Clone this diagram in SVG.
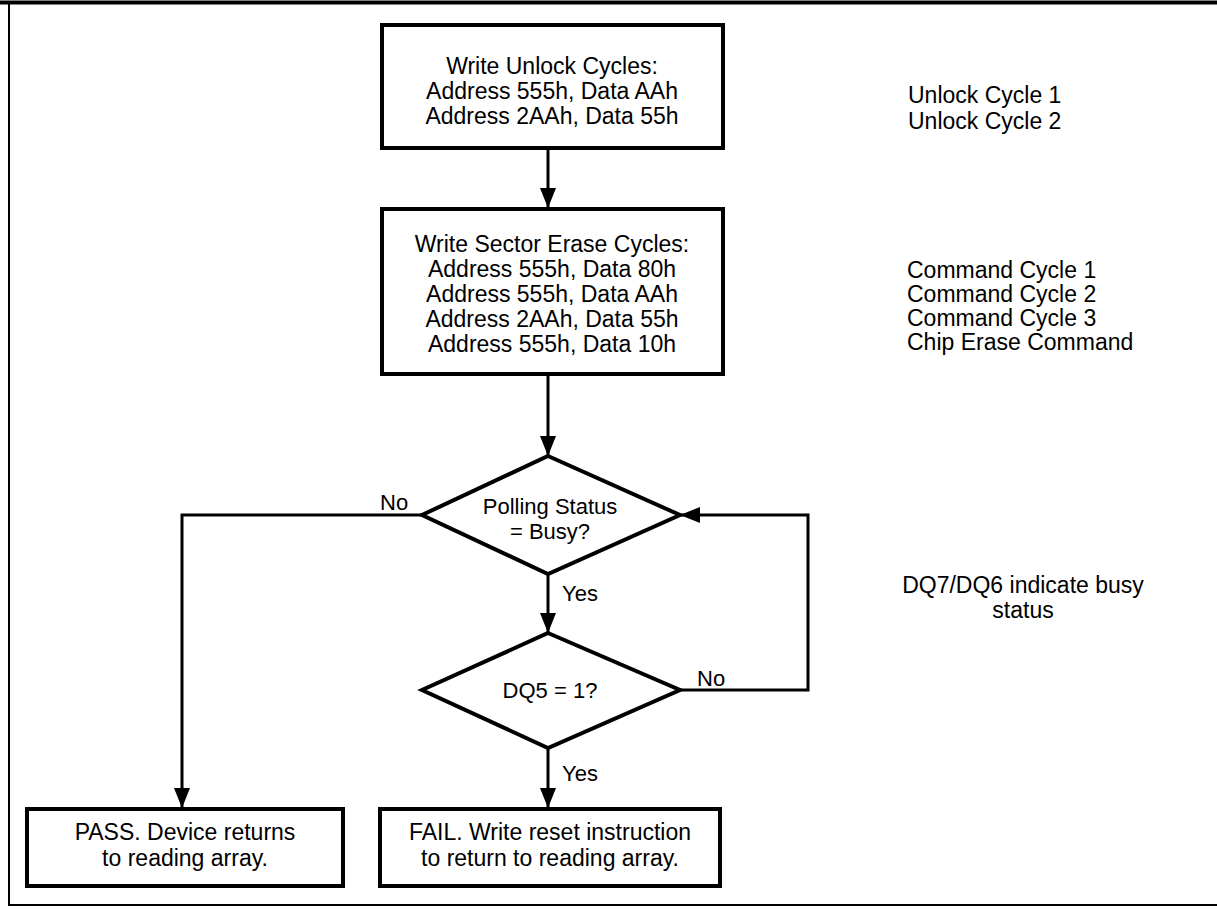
<svg xmlns="http://www.w3.org/2000/svg" width="1217" height="909" viewBox="0 0 1217 909">
<style>
.box{fill:#fff;stroke:#000;stroke-width:4}
.t{font-family:"Liberation Sans",Arial,sans-serif;font-size:23px;fill:#000}
.s{font-size:22px}
.c{text-anchor:middle}
.ln{fill:none;stroke:#000;stroke-width:3}
</style>
<defs>
<marker id="ah" markerUnits="userSpaceOnUse" markerWidth="20" markerHeight="16" refX="20" refY="8" viewBox="0 0 20 16" orient="auto">
<path d="M0,0 L20,8 L0,16 Z" fill="#000"/>
</marker>
</defs>
<rect width="1217" height="909" fill="#fff"/>
<g id="frame">
<line x1="0" y1="2.5" x2="1217" y2="2.5" stroke="#000" stroke-width="4"/>
<line x1="9" y1="2" x2="9" y2="906" stroke="#000" stroke-width="2"/>
<line x1="9" y1="905" x2="1217" y2="905" stroke="#000" stroke-width="2"/>
</g>
<g id="connectors">
<line class="ln" x1="548" y1="148" x2="548" y2="208" marker-end="url(#ah)"/>
<line class="ln" x1="548" y1="374" x2="548" y2="456" marker-end="url(#ah)"/>
<line class="ln" x1="548" y1="574" x2="548" y2="633" marker-end="url(#ah)"/>
<line class="ln" x1="548" y1="748" x2="548" y2="808" marker-end="url(#ah)"/>
<polyline class="ln" points="422,515 182,515 182,808" marker-end="url(#ah)"/>
<polyline class="ln" points="680,690 808,690 808,515 680,515" marker-end="url(#ah)"/>
<text class="t s" x="380" y="510">No</text>
<text class="t s" x="697" y="686">No</text>
<text class="t s" x="562" y="601">Yes</text>
<text class="t s" x="562" y="781">Yes</text>
</g>
<g id="n1">
<rect class="box" x="382" y="25" width="341" height="123"/>
<text class="t c" x="552" y="74">Write Unlock Cycles:</text>
<text class="t c" x="552" y="99">Address 555h, Data AAh</text>
<text class="t c" x="552" y="124">Address 2AAh, Data 55h</text>
</g>
<g id="n2">
<rect class="box" x="382" y="209" width="341" height="165"/>
<text class="t c" x="552" y="252">Write Sector Erase Cycles:</text>
<text class="t c" x="552" y="277">Address 555h, Data 80h</text>
<text class="t c" x="552" y="302">Address 555h, Data AAh</text>
<text class="t c" x="552" y="327">Address 2AAh, Data 55h</text>
<text class="t c" x="552" y="352">Address 555h, Data 10h</text>
</g>
<g id="d1">
<polygon class="box" points="548,456 680,515 548,574 422,515"/>
<text class="t s c" x="550" y="514" fill="#333">Polling Status</text>
<text class="t s c" x="550" y="539" fill="#333">= Busy?</text>
</g>
<g id="d2">
<polygon class="box" points="548,633 680,690 548,748 422,690"/>
<text class="t s c" x="550" y="698">DQ5 = 1?</text>
</g>
<g id="pass">
<rect class="box" x="27" y="809" width="316" height="77"/>
<text class="t c" x="185" y="840">PASS. Device returns</text>
<text class="t c" x="185" y="866">to reading array.</text>
</g>
<g id="fail">
<rect class="box" x="380" y="809" width="340" height="77"/>
<text class="t c" x="550" y="840">FAIL. Write reset instruction</text>
<text class="t c" x="550" y="866">to return to reading array.</text>
</g>
<g id="notes">
<text class="t" x="908" y="103">Unlock Cycle 1</text>
<text class="t" x="908" y="129">Unlock Cycle 2</text>
<text class="t" x="907" y="278">Command Cycle 1</text>
<text class="t" x="907" y="302">Command Cycle 2</text>
<text class="t" x="907" y="326">Command Cycle 3</text>
<text class="t" x="907" y="350">Chip Erase Command</text>
<text class="t c" x="1023" y="593">DQ7/DQ6 indicate busy</text>
<text class="t c" x="1023" y="618">status</text>
</g>
</svg>
